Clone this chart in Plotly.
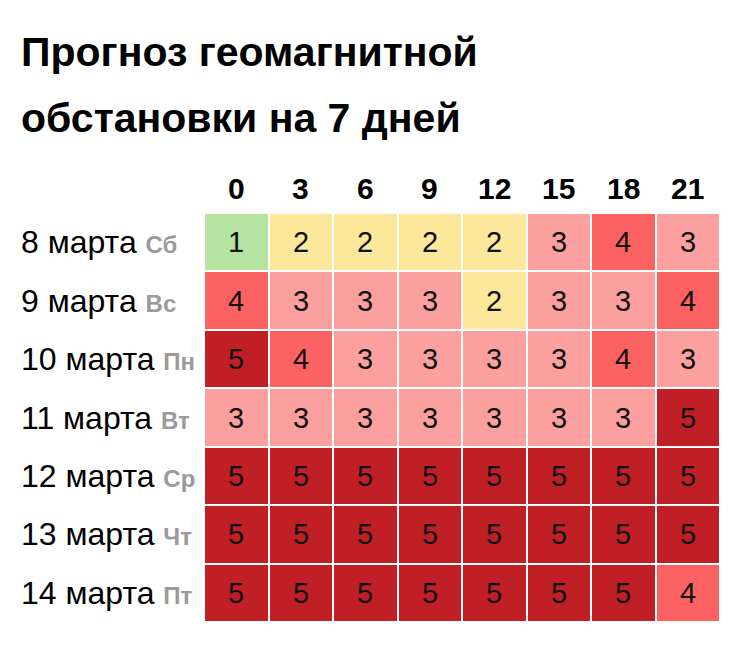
import plotly.graph_objects as go

hours = ["0", "3", "6", "9", "12", "15", "18", "21"]
dates = ["8 марта", "9 марта", "10 марта", "11 марта", "12 марта", "13 марта", "14 марта"]
weekdays = ["Сб", "Вс", "Пн", "Вт", "Ср", "Чт", "Пт"]
kp = [
    [1, 2, 2, 2, 2, 3, 4, 3],
    [4, 3, 3, 3, 2, 3, 3, 4],
    [5, 4, 3, 3, 3, 3, 4, 3],
    [3, 3, 3, 3, 3, 3, 3, 5],
    [5, 5, 5, 5, 5, 5, 5, 5],
    [5, 5, 5, 5, 5, 5, 5, 5],
    [5, 5, 5, 5, 5, 5, 5, 4],
]
level_colors = ["#b5e3a1", "#fbe89b", "#fba09f", "#fc6262", "#bf1f25"]
title_lines = ["Прогноз геомагнитной", "обстановки на 7 дней"]

OFF = 8  # default page body margin
W, H = 734, 644
L, T = 204 - OFF, 213 - OFF
R = W - (720 - OFF)
B = H - (622 - OFF)
pw, ph = W - L - R, H - T - B

cs = []
n = len(level_colors)
for i, c in enumerate(level_colors):
    cs.append([i / n, c])
    cs.append([(i + 1) / n, c])

FONT = "Liberation Sans, Arial, sans-serif"
xi = list(range(len(hours)))
yi = list(range(len(dates)))

fig = go.Figure(go.Heatmap(
    z=kp, x=xi, y=yi,
    colorscale=cs, zmin=0.5, zmax=5.5, showscale=False,
    xgap=2, ygap=2,
    text=kp, texttemplate="%{text}",
    textfont=dict(family=FONT, size=29, color="#111111"),
    hoverinfo="skip",
))

def py(pix):
    return (H - B - (pix - OFF)) / ph
def px(pix):
    return (pix - OFF - L) / pw

ann = []
for i, t in enumerate(title_lines):
    ann.append(dict(text="<b>%s</b>" % t, xref="paper", yref="paper",
                    x=px(19), y=py([52, 118][i]), xanchor="left", yanchor="middle",
                    showarrow=False, font=dict(family=FONT, size=41, color="#000000")))
for i, h in enumerate(hours):
    ann.append(dict(text="<b>%s</b>" % h, xref="x", yref="paper", x=xi[i], y=py(188),
                    xanchor="center", yanchor="middle", showarrow=False,
                    font=dict(family=FONT, size=30, color="#000000")))
for i, (d, wd) in enumerate(zip(dates, weekdays)):
    ann.append(dict(text="%s <b><span style='color:#9a9a9a;font-size:24px'>%s</span></b>" % (d, wd),
                    xref="paper", yref="y", x=px(19), y=yi[i], xanchor="left", yanchor="middle",
                    showarrow=False, font=dict(family=FONT, size=32, color="#000000")))

fig.update_layout(
    width=W, height=H,
    margin=dict(l=L, r=R, t=T, b=B, pad=0),
    paper_bgcolor="white", plot_bgcolor="white",
    xaxis=dict(range=[-0.5, len(hours) - 0.5], showticklabels=False, showgrid=False,
               zeroline=False, ticks=""),
    yaxis=dict(range=[len(dates) - 0.5, -0.5], showticklabels=False, showgrid=False,
               zeroline=False, ticks=""),
    annotations=ann,
    font=dict(family=FONT),
)
fig.write_html("out.html")
